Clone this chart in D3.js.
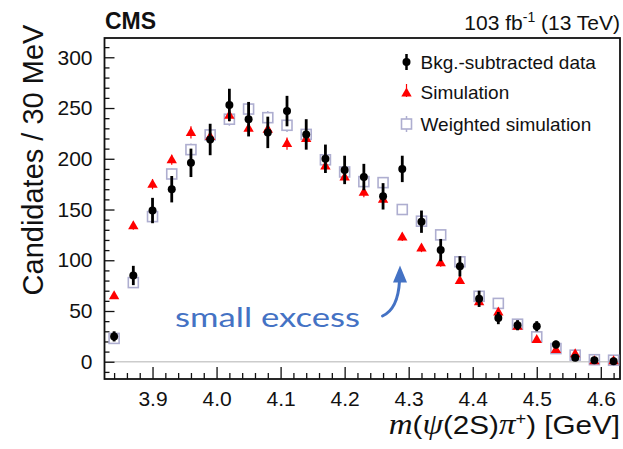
<!DOCTYPE html>
<html>
<head>
<meta charset="utf-8">
<script src="https://cdn.jsdelivr.net/npm/d3@7"></script>
<style>
  html, body { margin: 0; padding: 0; background: #fff; }
  svg { display: block; }
  text { font-family: "Liberation Sans", Arial, Helvetica, sans-serif; }
</style>
</head>
<body>
<svg id="chart" width="623" height="449"></svg>
<script>
// Bin centres of m(psi(2S) pi+) in GeV (30 MeV bins)
const massBins = [3.84, 3.87, 3.90, 3.93, 3.96, 3.99, 4.02, 4.05, 4.08, 4.11, 4.14, 4.17, 4.20, 4.23,
                  4.26, 4.29, 4.32, 4.35, 4.38, 4.41, 4.44, 4.47, 4.50, 4.53, 4.56, 4.59, 4.62];

// Background-subtracted data and its uncertainty
const dataValues = [25, 85, 149, 170, 196, 219, 253, 239, 226, 247, 224, 200, 189, 182,
                    163, 190, 138, 110, 94, 62, 43, 36, 35, 17, 4, 1.5, 0.5];
const dataErrors = [5, 9.5, 12.5, 13, 14, 15.5, 16, 17, 15.5, 15, 15, 14, 14, 13,
                    13, 13, 11, 11, 10, 8, 6, 5, 5, 4, 3, 2, 1.5];

// Simulation
const simValues = [65, 134, 175, 199, 226, 222, 243, 230, 229, 215, 220, 193, 182, 167,
                   160, 123, 112, 97.5, 80, 59, 49, 35, 22, 12, 8, 1, 1];
const simErrors = [3, 4, 5, 5, 6, 6, 6, 6, 6, 6, 6, 5, 5, 5,
                   5, 4, 4, 4, 3.5, 3, 3, 2.5, 2, 1.5, 1, 0.5, 0.5];

// Weighted simulation
const weightedValues = [23, 78, 143, 185, 209, 223.5, 239, 249, 240.5, 233, 224, 199, 187, 177.5,
                        176.5, 150, 138.5, 125, 98.5, 64.5, 57.5, 37, 24.5, 13, 6.5, 2, 1.5];
const weightedErrors = [3, 4, 5, 5.5, 6, 6, 6.5, 6.5, 6.5, 6.5, 6, 5.5, 5.5, 5,
                        5, 4.5, 4.5, 4, 3.5, 3, 3, 2.5, 2, 1.5, 1, 0.5, 0.5];

// Axis ticks
const yMajorTicks = [0, 50, 100, 150, 200, 250, 300];
const yMinorTicks = [-10, 10, 20, 30, 40, 60, 70, 80, 90, 110, 120, 130, 140, 160, 170, 180, 190,
                     210, 220, 230, 240, 260, 270, 280, 290, 310];
const xMajorTicks = [3.9, 4.0, 4.1, 4.2, 4.3, 4.4, 4.5, 4.6];
const xMinorTicks = [3.84, 3.86, 3.88, 3.92, 3.94, 3.96, 3.98, 4.02, 4.04, 4.06, 4.08, 4.12, 4.14,
                     4.16, 4.18, 4.22, 4.24, 4.26, 4.28, 4.32, 4.34, 4.36, 4.38, 4.42, 4.44,
                     4.46, 4.48, 4.52, 4.54, 4.56, 4.58, 4.62];

const legendLabels = ["Bkg.-subtracted data", "Simulation", "Weighted simulation"];

const svg = d3.select("#chart");
const plot = { left: 104.5, right: 620, top: 38, bottom: 379 };

const x = d3.scaleLinear().domain([3.825, 4.63]).range([plot.left, plot.right]);
const y = d3.scaleLinear().domain([-17, 319]).range([plot.bottom, plot.top]);

const RED = "#ff0000";
const SQUARE = "#aeaed0";
const BLUE = "#4472c4";

// zero line
svg.append("line")
  .attr("x1", plot.left).attr("x2", plot.right)
  .attr("y1", y(0)).attr("y2", y(0))
  .attr("stroke", "#cccccc").attr("stroke-width", 1.5);

// Axes: major with labels, minor without
const axisStyle = g => {
  g.select(".domain").remove();
  g.selectAll("line").attr("stroke", "#111").attr("stroke-width", 1.3);
  g.selectAll("text").attr("fill", "#111").style("font-size", "21px")
    .style("font-family", "'Liberation Sans', Arial, sans-serif");
};

svg.append("g").attr("transform", `translate(${plot.left},0)`)
  .call(d3.axisRight(y).tickValues(yMajorTicks).tickSize(10).tickFormat(() => ""))
  .call(axisStyle);
svg.append("g").attr("transform", `translate(${plot.left},0)`)
  .call(d3.axisRight(y).tickValues(yMinorTicks).tickSize(5).tickFormat(() => ""))
  .call(axisStyle);
svg.append("g").attr("transform", `translate(${plot.left - 9},0)`)
  .call(d3.axisLeft(y).tickValues(yMajorTicks).tickSize(0).tickFormat(d3.format("d")))
  .call(axisStyle);

svg.append("g").attr("transform", `translate(0,${plot.bottom})`)
  .call(d3.axisTop(x).tickValues(xMajorTicks).tickSize(12).tickFormat(() => ""))
  .call(axisStyle);
svg.append("g").attr("transform", `translate(0,${plot.bottom})`)
  .call(d3.axisTop(x).tickValues(xMinorTicks).tickSize(6).tickFormat(() => ""))
  .call(axisStyle);
svg.append("g").attr("transform", `translate(0,${plot.bottom + 9})`)
  .call(d3.axisBottom(x).tickValues(xMajorTicks).tickSize(0).tickFormat(d3.format(".1f")))
  .call(axisStyle);

// frame
svg.append("rect")
  .attr("x", plot.left).attr("y", plot.top)
  .attr("width", plot.right - plot.left).attr("height", plot.bottom - plot.top)
  .attr("fill", "none").attr("stroke", "#111").attr("stroke-width", 1.8);

const rows = massBins.map((m, i) => ({
  m,
  data: dataValues[i], dataErr: dataErrors[i],
  sim: simValues[i], simErr: simErrors[i],
  w: weightedValues[i], wErr: weightedErrors[i]
}));

const triPath = "M0,-5.5L5.2,3.5L-5.2,3.5Z";

// weighted simulation: open squares
const gW = svg.append("g");
gW.selectAll("line").data(rows).join("line")
  .attr("x1", d => x(d.m)).attr("x2", d => x(d.m))
  .attr("y1", d => y(d.w - d.wErr)).attr("y2", d => y(d.w + d.wErr))
  .attr("stroke", SQUARE).attr("stroke-width", 1.5);
gW.selectAll("rect").data(rows).join("rect")
  .attr("x", d => x(d.m) - 5).attr("y", d => y(d.w) - 5)
  .attr("width", 10).attr("height", 10)
  .attr("fill", "#fff").attr("stroke", SQUARE).attr("stroke-width", 1.6);

// simulation: red triangles
const gS = svg.append("g");
gS.selectAll("line").data(rows).join("line")
  .attr("x1", d => x(d.m)).attr("x2", d => x(d.m))
  .attr("y1", d => y(d.sim - d.simErr)).attr("y2", d => y(d.sim + d.simErr))
  .attr("stroke", RED).attr("stroke-width", 1.2);
gS.selectAll("path").data(rows).join("path")
  .attr("d", triPath)
  .attr("transform", d => `translate(${x(d.m)},${y(d.sim)})`)
  .attr("fill", RED);

// data: black dots with error bars
const gD = svg.append("g");
gD.selectAll("line").data(rows).join("line")
  .attr("x1", d => x(d.m)).attr("x2", d => x(d.m))
  .attr("y1", d => y(d.data - d.dataErr)).attr("y2", d => y(d.data + d.dataErr))
  .attr("stroke", "#000").attr("stroke-width", 2.8);
gD.selectAll("circle").data(rows).join("circle")
  .attr("cx", d => x(d.m)).attr("cy", d => y(d.data)).attr("r", 4)
  .attr("fill", "#000");

// legend
const legX = 406.5, legTextX = 420.5, legY = [62, 92, 124];
const leg = svg.append("g");
leg.append("line").attr("x1", legX).attr("x2", legX).attr("y1", legY[0] - 8).attr("y2", legY[0] + 8)
  .attr("stroke", "#000").attr("stroke-width", 2.5);
leg.append("circle").attr("cx", legX).attr("cy", legY[0]).attr("r", 4).attr("fill", "#000");
leg.append("line").attr("x1", legX).attr("x2", legX).attr("y1", legY[1] - 8).attr("y2", legY[1] + 5)
  .attr("stroke", RED).attr("stroke-width", 1.2);
leg.append("path").attr("d", triPath).attr("transform", `translate(${legX},${legY[1] + 1})`).attr("fill", RED);
leg.append("line").attr("x1", legX).attr("x2", legX).attr("y1", legY[2] - 8).attr("y2", legY[2] + 8)
  .attr("stroke", SQUARE).attr("stroke-width", 1.5);
leg.append("rect").attr("x", legX - 5).attr("y", legY[2] - 5).attr("width", 10).attr("height", 10)
  .attr("fill", "#fff").attr("stroke", SQUARE).attr("stroke-width", 1.6);
leg.selectAll("text").data(legendLabels).join("text")
  .attr("x", legTextX).attr("y", (d, i) => legY[i] + 7)
  .style("font-size", "19px").attr("fill", "#111")
  .text(d => d);

// header texts
svg.append("text").attr("x", 105).attr("y", 29)
  .style("font-size", "23px").style("font-weight", "bold").attr("fill", "#111")
  .text("CMS");

const lumi = svg.append("text").attr("x", 620).attr("y", 30).attr("text-anchor", "end")
  .style("font-size", "21px").attr("fill", "#111");
lumi.append("tspan").text("103 fb");
lumi.append("tspan").attr("dy", -8).style("font-size", "14px").text("-1");
lumi.append("tspan").attr("dy", 8).text(" (13 TeV)");

// axis titles
svg.append("text")
  .attr("transform", "translate(43,160) rotate(-90)")
  .attr("text-anchor", "middle")
  .style("font-size", "29px").attr("fill", "#111")
  .text("Candidates / 30 MeV");

const xt = svg.append("text")
  .attr("transform", "translate(620,434) scale(1.14,1)")
  .attr("text-anchor", "end")
  .style("font-size", "26px").attr("fill", "#111");
xt.append("tspan").style("font-family", "'Liberation Serif', 'Times New Roman', serif")
  .style("font-style", "italic").style("font-size", "29px").text("m");
xt.append("tspan").text("(");
xt.append("tspan").style("font-family", "'Liberation Serif', 'DejaVu Serif', serif")
  .style("font-style", "italic").style("font-size", "29px").text("ψ");
xt.append("tspan").text("(2S)");
xt.append("tspan").style("font-family", "'Liberation Serif', 'DejaVu Serif', serif")
  .style("font-style", "italic").style("font-size", "29px").text("π");
xt.append("tspan").attr("dy", -10).style("font-size", "16px").text("+");
xt.append("tspan").attr("dy", 10).text(") [GeV]");

// annotation
svg.append("text").attr("x", 175).attr("y", 327)
  .attr("textLength", 185).attr("lengthAdjust", "spacingAndGlyphs")
  .style("font-family", "Lato, 'Open Sans', sans-serif").style("font-size", "27px")
  .attr("fill", BLUE).text("small excess");

svg.append("path")
  .attr("d", "M382.5,316 Q398,309 399.5,281")
  .attr("fill", "none").attr("stroke", BLUE).attr("stroke-width", 3)
  .attr("stroke-linecap", "round");
svg.append("path")
  .attr("d", "M400,265.5 L407,282.5 L393,282.5 Z")
  .attr("fill", BLUE);
</script>
</body>
</html>
